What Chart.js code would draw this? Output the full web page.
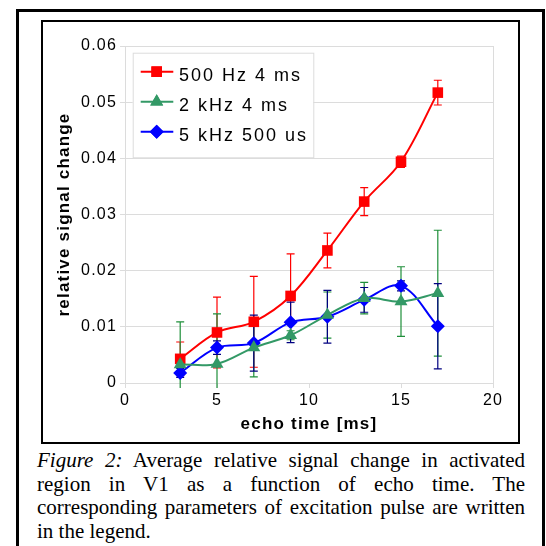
<!DOCTYPE html>
<html>
<head>
<meta charset="utf-8">
<script src="https://cdn.jsdelivr.net/npm/chart.js@4.4.1/dist/chart.umd.min.js"></script>
<style>
  html, body { margin: 0; padding: 0; background: #fff; width: 546px; height: 546px; overflow: hidden; }
  #outer { position: absolute; left: 16px; top: 9px; width: 529px; height: 600px; box-sizing: border-box; border: 3px solid #000; border-bottom: none; }
  #inner { position: absolute; left: 41px; top: 20px; width: 479px; height: 424px; box-sizing: border-box; border: 2px solid #000; }
  #c { position: absolute; left: 41px; top: 20px; }
  #caption { position: absolute; left: 37px; top: 449px; width: 488px; font-family: "Liberation Serif", "Times New Roman", serif; font-size: 21px; line-height: 23.6px; color: #000; }
  #caption div { text-align: justify; text-align-last: justify; white-space: nowrap; }
  #caption div.last { text-align-last: left; }
</style>
</head>
<body>
<div id="outer"></div>
<div id="inner"></div>
<canvas id="c" width="479" height="424"></canvas>
<div id="caption">
  <div><i>Figure 2:</i> Average relative signal change in activated</div>
  <div>region in V1 as a function of echo time. The</div>
  <div>corresponding parameters of excitation pulse are written</div>
  <div class="last">in the legend.</div>
</div>
<script>
// ---- data ----
const echoTimes = [3, 5, 7, 9, 11, 13, 15, 17];
const seriesNames = ["500 Hz 4 ms", "2 kHz 4 ms", "5 kHz 500 us"];
const red500Hz = [0.0043, 0.0090, 0.0109, 0.0155, 0.0236, 0.0323, 0.0394, 0.0517];
const red500HzErr = [0.0030, 0.0063, 0.0081, 0.0075, 0.0031, 0.0025, 0.0010, 0.0022];
const green2kHz = [0.0033, 0.0034, 0.0063, 0.0085, 0.0121, 0.0151, 0.0145, 0.0160];
const green2kHzErr = [0.0076, 0.0089, 0.0052, 0.0008, 0.0041, 0.0028, 0.0062, 0.0112];
const blue5kHz = [0.0018, 0.0063, 0.0071, 0.0108, 0.0118, 0.0148, 0.0173, 0.0101];
const blue5kHzErr = [0.0008, 0.0012, 0.0050, 0.0036, 0.0047, 0.0022, 0.0009, 0.0076];
const xTicks = [0, 5, 10, 15, 20];
const yTicks = [0, 0.01, 0.02, 0.03, 0.04, 0.05, 0.06];
const xTitle = "echo time [ms]";
const yTitle = "relative signal change";

const GRID = "#dcdcdc";
const pts = (ys) => echoTimes.map((x, i) => ({ x: x, y: ys[i] }));

const datasets = [
  { label: seriesNames[0], data: pts(red500Hz), err: red500HzErr, errColor: "#ff0000",
    borderColor: "#ff0000", backgroundColor: "#ff0000", pointStyle: "rect", pointRadius: 7.5, order: 2 },
  { label: seriesNames[1], data: pts(green2kHz), err: green2kHzErr, errColor: "#1f8f3a",
    borderColor: "#339966", backgroundColor: "#339966", pointStyle: "triangle", pointRadius: 7.5, order: 0 },
  { label: seriesNames[2], data: pts(blue5kHz), err: blue5kHzErr, errColor: "#000080",
    borderColor: "#0000ff", backgroundColor: "#0000ff", pointStyle: "rectRot", pointRadius: 7, order: 1 }
];
datasets.forEach(d => { d.borderWidth = 2; d.tension = 0.35; d.pointBorderWidth = 0; d.pointHoverRadius = d.pointRadius; d.fill = false; });

const spacingPlugin = {
  id: "spacing",
  beforeUpdate(chart) { chart.ctx.letterSpacing = "1.2px"; },
  beforeLayout(chart) { chart.ctx.letterSpacing = "1.2px"; },
  beforeDraw(chart) { chart.ctx.letterSpacing = "1.2px"; }
};

const errorBarPlugin = {
  id: "errorBars",
  beforeDatasetsDraw(chart) {
    const ctx = chart.ctx, xs = chart.scales.x, ys = chart.scales.y, a = chart.chartArea;
    ctx.save();
    ctx.beginPath();
    ctx.rect(a.left, a.top, a.right - a.left, a.bottom - a.top + 5);
    ctx.clip();
    ctx.lineWidth = 1.2;
    chart.data.datasets.forEach(ds => {
      ctx.strokeStyle = ds.errColor;
      ds.data.forEach((p, i) => {
        const e = ds.err[i];
        const px = xs.getPixelForValue(p.x);
        const yt = ys.getPixelForValue(p.y + e);
        const yb = ys.getPixelForValue(p.y - e);
        ctx.beginPath();
        ctx.moveTo(px, yt); ctx.lineTo(px, yb);
        ctx.moveTo(px - 4, yt); ctx.lineTo(px + 4, yt);
        ctx.moveTo(px - 4, yb); ctx.lineTo(px + 4, yb);
        ctx.stroke();
      });
    });
    ctx.restore();
  }
};

const legendPlugin = {
  id: "boxLegend",
  afterDatasetsDraw(chart) {
    const ctx = chart.ctx, a = chart.chartArea;
    const bx = a.left + 7.7, by = a.top + 6.7, bw = 180.6, bh = 104.6;
    ctx.save();
    ctx.fillStyle = "#fff";
    ctx.fillRect(bx, by, bw, bh);
    ctx.strokeStyle = GRID;
    ctx.lineWidth = 1;
    ctx.strokeRect(bx + 0.5, by + 0.5, bw, bh);
    chart.data.datasets.forEach((ds, i) => {
      const cy = by + 19 + i * 30;
      ctx.strokeStyle = ds.borderColor;
      ctx.lineWidth = 2;
      ctx.beginPath();
      ctx.moveTo(bx + 8, cy); ctx.lineTo(bx + 40.6, cy);
      ctx.stroke();
      ctx.fillStyle = ds.backgroundColor;
      Chart.helpers.drawPoint(ctx, { pointStyle: ds.pointStyle, radius: ds.pointRadius, borderWidth: 0, rotation: 0 }, bx + 24, cy);
      ctx.fill();
      ctx.letterSpacing = "2px";
      ctx.font = "18px 'Liberation Sans', Arial, sans-serif";
      ctx.fillStyle = "#000";
      ctx.textAlign = "left";
      ctx.textBaseline = "alphabetic";
      ctx.fillText(ds.label, bx + 46.3, by + 28 + i * 30);
    });
    ctx.restore();
  }
};

new Chart(document.getElementById("c"), {
  type: "line",
  data: { datasets: datasets },
  plugins: [spacingPlugin, errorBarPlugin, legendPlugin],
  options: {
    responsive: false,
    animation: false,
    layout: { padding: { left: 0, top: 26, right: 27, bottom: 0 } },
    plugins: { legend: { display: false }, tooltip: { enabled: false } },
    scales: {
      x: {
        type: "linear", min: xTicks[0], max: xTicks[xTicks.length - 1],
        afterFit(s) { s.height = 61; },
        afterBuildTicks(s) { s.ticks = xTicks.map(v => ({ value: v })); },
        ticks: { color: "#000", font: { family: "'Liberation Sans', Arial, sans-serif", size: 16 }, padding: 3, maxRotation: 0, autoSkip: false },
        grid: { drawOnChartArea: true, color: (c) => (c.tick && c.tick.value === 20 ? GRID : "rgba(0,0,0,0)"), tickColor: GRID, tickLength: 5, lineWidth: 1 },
        border: { display: true, color: GRID },
        title: { display: true, text: xTitle, color: "#000", font: { family: "'Liberation Sans', Arial, sans-serif", size: 17, weight: "bold" }, padding: { top: 0, bottom: 9.3 } }
      },
      y: {
        type: "linear", min: yTicks[0], max: yTicks[yTicks.length - 1],
        afterFit(s) { s.width = 84; },
        afterBuildTicks(s) { s.ticks = yTicks.map(v => ({ value: v })); },
        ticks: { color: "#000", font: { family: "'Liberation Sans', Arial, sans-serif", size: 16 }, padding: 3,
          callback: (v) => String(Math.round(v * 100) / 100) },
        grid: { color: GRID, tickColor: GRID, tickLength: 5, lineWidth: 1 },
        border: { display: true, color: GRID },
        title: { display: true, text: yTitle, color: "#000", font: { family: "'Liberation Sans', Arial, sans-serif", size: 17, weight: "bold" }, padding: { top: 13.6, bottom: 0 } }
      }
    }
  }
});
</script>
</body>
</html>
